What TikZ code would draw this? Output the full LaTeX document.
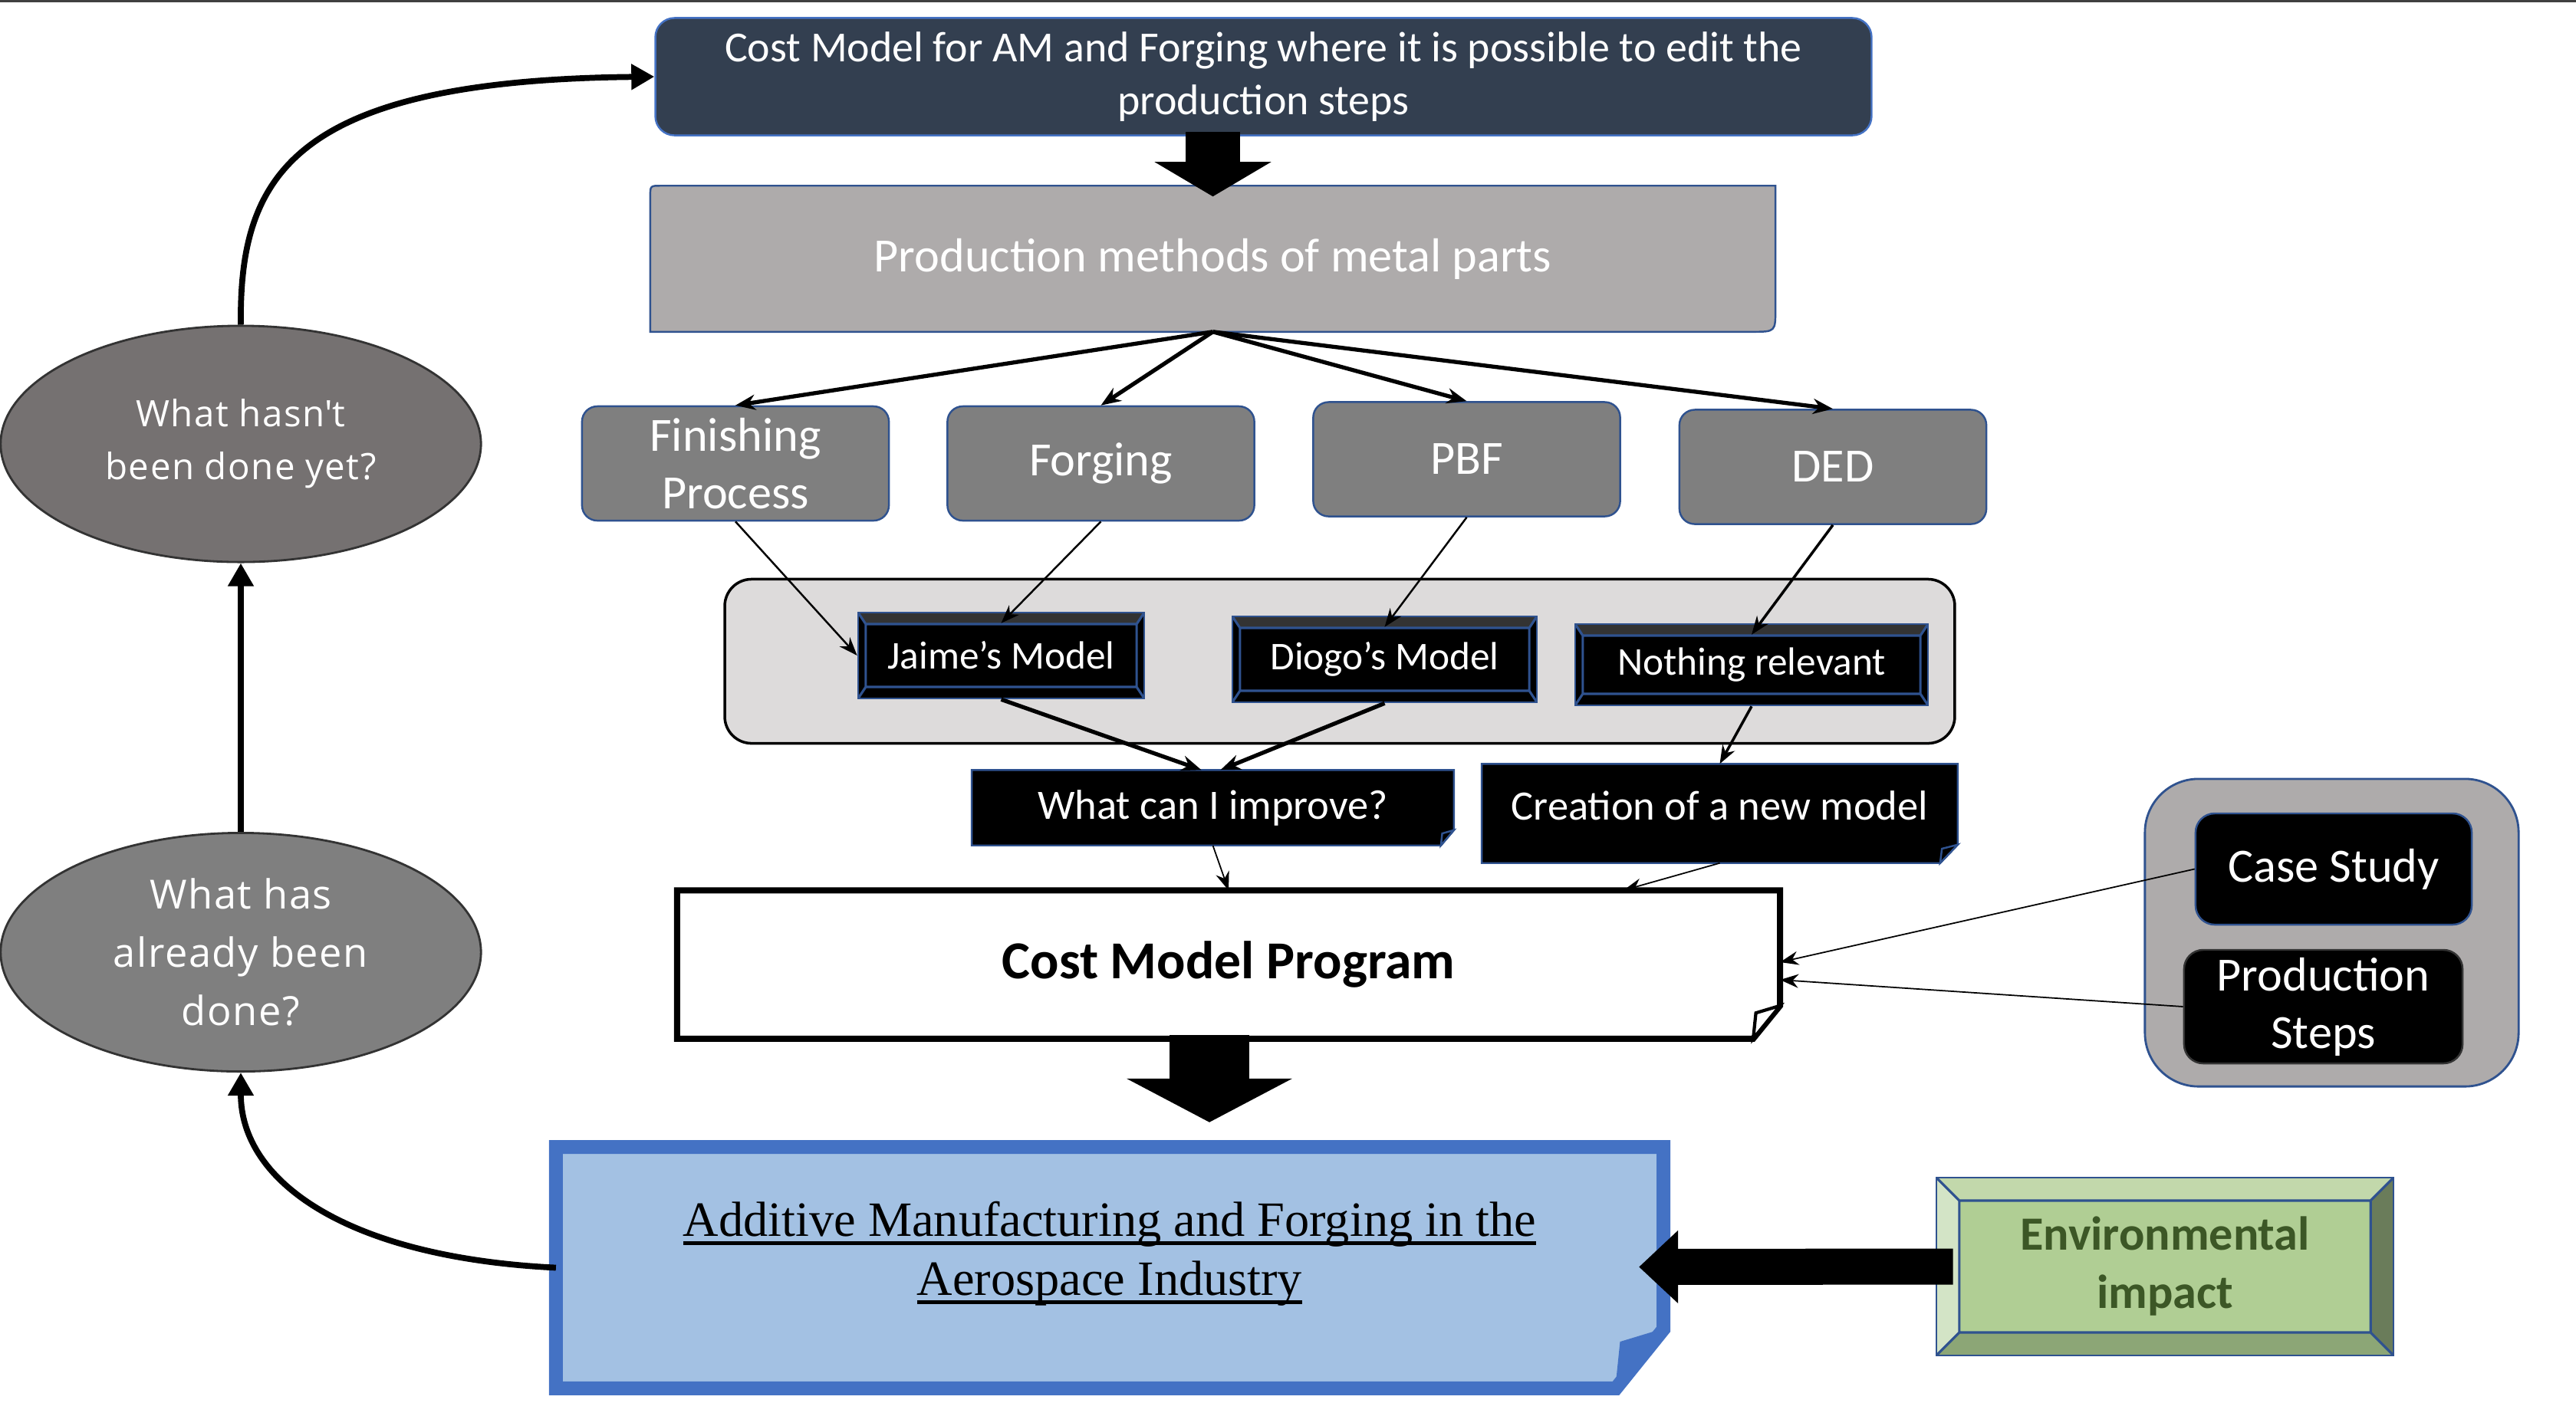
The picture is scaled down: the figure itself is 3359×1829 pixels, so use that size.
\documentclass[tikz,border=0pt]{standalone}
\usepackage{fontspec}
\setmainfont{Carlito}
\newfontfamily\ovalfont[LetterSpace=3]{Open Sans}
\newfontfamily\titlefont{Liberation Serif}
\usepackage{tikz}
\usetikzlibrary{arrows.meta, shapes.geometric, calc, backgrounds}
\usepackage{xcolor}

\definecolor{navybox}{RGB}{51,63,80}
\definecolor{outlineblue}{RGB}{47,82,143}
\definecolor{accentblue}{RGB}{68,114,196}
\definecolor{methodgray}{RGB}{174,171,171}
\definecolor{stepgray}{RGB}{127,127,127}
\definecolor{panelgray}{RGB}{221,219,219}
\definecolor{ovalgray}{RGB}{117,113,113}
\definecolor{bevelgray}{RGB}{51,51,51}
\definecolor{skyfill}{RGB}{163,193,227}
\definecolor{leaffill}{RGB}{176,206,148}
\definecolor{leaftop}{RGB}{194,216,171}
\definecolor{leafleft}{RGB}{211,228,198}
\definecolor{leafbottom}{RGB}{140,166,118}
\definecolor{leafright}{RGB}{106,124,90}
\definecolor{leaftext}{RGB}{60,87,38}

% underlined line of the topic box
\newcommand{\titleline}[1]{\setbox0\hbox{#1}\rlap{\rule[-0.11cm]{\wd0}{0.045cm}}\box0}
% frame with a folded corner: node, dx, dy, frame style, flap style
\newcommand{\foldbox}[5]{%
  \begin{scope}[on background layer]
    \filldraw[#4] (#1.north west) -- (#1.north east) -- ([yshift=#3]#1.south east) -- ([xshift=-#2]#1.south east) -- (#1.south west) -- cycle;
  \end{scope}
  \filldraw[#5] ([yshift=#3]#1.south east) -- ([xshift=-0.9*#2,yshift=0.78*#3]#1.south east) -- ([xshift=-#2]#1.south east) -- cycle;}

\begin{document}
\begin{tikzpicture}[
    x=0.01cm, y=-0.01cm,
    box/.style={draw=outlineblue, line width=0.7pt, inner sep=0pt, align=center, text=white},
    method/.style={box, fill=stepgray, rounded corners=0.2cm, minimum width=4cm, minimum height=1.49cm, font=\fontsize{17.7}{21.3}\selectfont},
    model/.style={box, fill=black, minimum height=1.12cm, font=\fontsize{14.6}{17}\selectfont,
        bevel={0.1cm}{0.15cm}{bevelgray}{black}{black}{black}{outlineblue}},
    note/.style={inner sep=0pt, align=center, text=white, font=\fontsize{15.5}{18}\selectfont},
    oval/.style={ellipse, draw=black!80, line width=0.8pt, inner sep=0pt, align=center, text=white, minimum width=6.26cm},
    bevel/.style n args={7}{path picture={
        \path (path picture bounding box.north west) coordinate (o1)
              (path picture bounding box.north east) coordinate (o2)
              (path picture bounding box.south east) coordinate (o3)
              (path picture bounding box.south west) coordinate (o4);
        \path ([xshift=#1,yshift=-#2]o1) coordinate (i1)
              ([xshift=-#1,yshift=-#2]o2) coordinate (i2)
              ([xshift=-#1,yshift=#2]o3) coordinate (i3)
              ([xshift=#1,yshift=#2]o4) coordinate (i4);
        \fill[#3] (o1) -- (o2) -- (i2) -- (i1) -- cycle;
        \fill[#4] (o1) -- (i1) -- (i4) -- (o4) -- cycle;
        \fill[#5] (o4) -- (i4) -- (i3) -- (o3) -- cycle;
        \fill[#6] (o2) -- (o3) -- (i3) -- (i2) -- cycle;
        \draw[#7, line width=0.9pt] (i1) rectangle (i3) (o1) -- (i1) (o2) -- (i2) (o3) -- (i3) (o4) -- (i4);
    }},
    fanout/.style={-{Stealth[length=0.26cm, width=0.2cm]}, line width=1.5pt},
    feed/.style={-{Stealth[length=0.24cm, width=0.18cm]}, line width=0.7pt},
    loop/.style={-{Triangle[length=0.3cm, width=0.32cm]}, line width=2.2pt},
    block/.style={black},
]
    \useasboundingbox (0,0) rectangle (3359,1829);
    \draw[black!75, line width=0.03cm] (0,1) -- (3359,1);

    % Goal
    \node[box, draw=accentblue, fill=navybox, rounded corners=0.25cm, minimum width=15.85cm, minimum height=1.53cm,
          font=\fontsize{15.9}{19.5}\selectfont] (goal) at (1647.5,100)
        {Cost Model for AM and Forging where it is possible to edit the\\production steps};

    % Production methods
    \node[inner sep=0pt, text=white, minimum width=14.65cm, minimum height=1.89cm,
          font=\fontsize{17.7}{21}\selectfont] (methods) at (1581.5,337.5) {Production methods of metal parts};
    \begin{scope}[on background layer]
        \filldraw[fill=methodgray, draw=outlineblue, line width=0.7pt]
            ([yshift=-0.14cm]methods.north west) .. controls (methods.north west) .. ([xshift=0.14cm]methods.north west)
            -- (methods.north east) -- ([yshift=0.3cm]methods.south east) .. controls (methods.south east) .. ([xshift=-0.3cm]methods.south east)
            -- (methods.south west) -- cycle;
    \end{scope}

    \node[method] (finishing) at (959,604.5) {Finishing\\Process};
    \node[method] (forging) at (1435.5,604.5) {Forging};
    \node[method] (pbf) at (1912.5,599) {PBF};
    \node[method] (ded) at (2390,609) {DED};

    % Existing models
    \node[draw=black, line width=1pt, fill=panelgray, rounded corners=0.35cm, minimum width=16.03cm, minimum height=2.14cm] (panel) at (1747,862.5) {};
    \node[model, minimum width=3.73cm] (jaime) at (1305.5,855) {Jaime's Model};
    \node[model, minimum width=3.97cm] (diogo) at (1805.5,860) {Diogo's Model};
    \node[model, minimum width=4.6cm, minimum height=1.06cm] (nothing) at (2284,867) {Nothing relevant};

    \node[note, minimum width=6.27cm, minimum height=0.97cm] (improve) at (1581.5,1053.5) {What can I improve?};
    \node[note, minimum width=6.19cm, minimum height=1.28cm,
          label={[note, yshift=0.1cm]center:Creation of a new model}] (newmodel) at (2242.5,1061) {};
    \foldbox{improve}{0.17cm}{0.2cm}{fill=black, draw=outlineblue, line width=0.7pt}{fill=black, draw=outlineblue, line width=0.7pt}
    \foldbox{newmodel}{0.23cm}{0.24cm}{fill=black, draw=outlineblue, line width=0.7pt}{fill=black, draw=outlineblue, line width=0.7pt}

    % Program
    \node[inner sep=0pt, minimum width=14.36cm, minimum height=1.92cm,
          font=\bfseries\fontsize{19.8}{22}\selectfont] (program) at (1602,1258) {Cost Model Program};
    \foldbox{program}{0.35cm}{0.43cm}{fill=white, draw=black, line width=0.08cm}{fill=white, draw=black, line width=1.2pt}

    % Inputs
    \node[draw=outlineblue, line width=0.8pt, fill=methodgray, rounded corners=0.7cm, minimum width=4.87cm, minimum height=4.01cm] (inputs) at (3040.5,1216.5) {};
    \node[box, fill=black, rounded corners=0.25cm, minimum width=3.6cm, minimum height=1.45cm,
          font=\fontsize{17.7}{21.3}\selectfont] (casestudy) at (3043,1133.5) {Case Study};
    \node[box, draw=black!80, fill=black, rounded corners=0.25cm, minimum width=3.63cm, minimum height=1.48cm,
          font=\fontsize{17.7}{21.3}\selectfont] (steps) at (3029.5,1313) {Production\\Steps};

    % Topic
    \node[inner sep=0pt, minimum width=14.42cm, minimum height=3.13cm,
          label={[align=center, yshift=0.18cm, font=\titlefont\fontsize{18.3}{21.9}\selectfont]center:{\titleline{Additive Manufacturing and Forging in the}\\\titleline{Aerospace Industry}}}] (topic) at (1447,1653.5) {};
    \foldbox{topic}{0.62cm}{0.77cm}{fill=skyfill, draw=accentblue, line width=0.18cm}{fill=accentblue, draw=accentblue, line width=0.5pt}

    \node[box, fill=leaffill, text=leaftext, minimum width=5.96cm, minimum height=2.32cm,
          bevel={0.3cm}{0.3cm}{leaftop}{leafleft}{leafbottom}{leafright}{outlineblue},
          font=\bfseries\fontsize{17.7}{21.6}\selectfont] (impact) at (2823,1652) {Environmental\\impact};

    % Research questions
    \node[oval, fill=ovalgray, minimum height=3.08cm, font=\ovalfont\fontsize{13.5}{19.6}\selectfont] (notyet) at (314,579)
        {What hasn\textquotesingle t\\been done yet?};
    \node[oval, fill=stepgray, minimum height=3.11cm, font=\ovalfont\fontsize{14.9}{21.6}\selectfont] (done) at (314,1242)
        {What has\\already been\\done?};

    % Arrows
    \draw[block, line width=0.7cm, -{Triangle[length=0.45cm, width=1.5cm]}] ($(methods.north |- goal.south)+(0,-6)$) -- ($(methods.north)+(0,14)$);
    \draw[block, line width=1.03cm, -{Triangle[length=0.57cm, width=2.14cm]}] ($(program.south)+(-25,-5)$) -- ($(program.south)+(-25,109)$);
    \draw[block, line width=0.47cm, -{Triangle[length=0.51cm, width=0.92cm]}] ($(impact.west)+(23,0)$) -- ($(topic.east)+(-32,-1)$);

    \foreach \target in {finishing, forging, pbf, ded}
        \draw[fanout] (methods.south) -- (\target.north);

    \draw[feed] (finishing.south) -- (jaime.west);
    \draw[feed] (forging.south) -- ([yshift=-0.15cm]jaime.north);
    \draw[feed] (pbf.south) -- ([yshift=-0.15cm]diogo.north);
    \draw[feed, line width=1pt] (ded.south) -- ([yshift=-0.15cm]nothing.north);

    \draw[fanout] (jaime.south) -- ([xshift=-0.15cm]improve.north);
    \draw[fanout] (diogo.south) -- ([xshift=0.1cm]improve.north);
    \draw[feed, line width=1pt] (nothing.south) -- (newmodel.north);

    \draw[feed, line width=0.5pt] (improve.south) -- (program.north);
    \draw[feed, line width=0.5pt] (newmodel.south) -- ([xshift=-2.04cm]program.north east);
    \draw[feed, line width=0.5pt] (casestudy.west) -- ([yshift=0.03cm]program.east);
    \draw[feed, line width=0.5pt] (steps.west) -- ([yshift=-0.2cm]program.east);

    \draw[loop] (topic.west) .. controls (450,1640) and (314,1540) .. (done.south);
    \draw[loop] (done.north) -- (notyet.south);
    \draw[loop] (notyet.north) .. controls (312,230) and (380,105) .. (goal.west);
\end{tikzpicture}
\end{document}
